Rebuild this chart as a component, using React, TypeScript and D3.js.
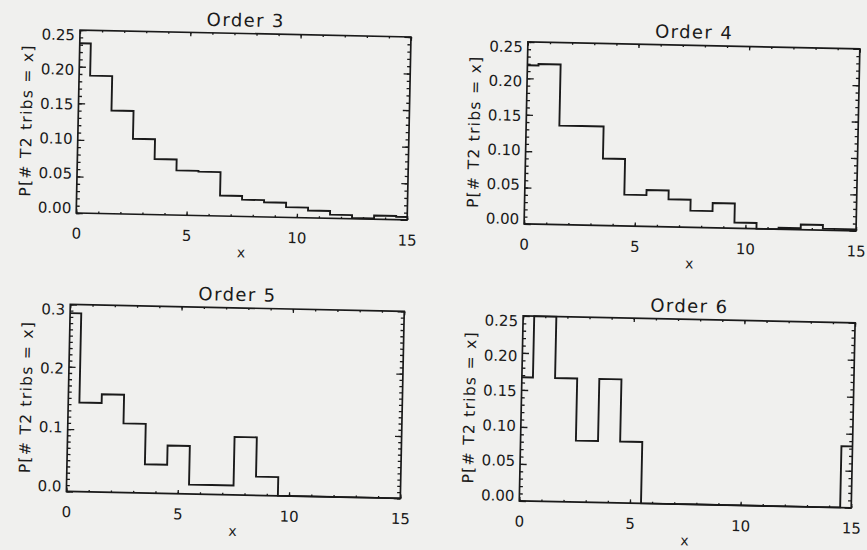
import { useRef, useEffect } from "react";
import * as d3 from "d3";

// x = number of T2 tributaries, one bin per integer
const tribCounts = [0, 1, 2, 3, 4, 5, 6, 7, 8, 9, 10, 11, 12, 13, 14, 15];

// P[# T2 tribs = x]
const order3 = [0.232, 0.188, 0.141, 0.103, 0.076, 0.061, 0.06, 0.028, 0.023, 0.02, 0.014, 0.01, 0.005, 0.001, 0.005, 0.004];
const order4 = [0.218, 0.22, 0.136, 0.136, 0.092, 0.043, 0.05, 0.038, 0.023, 0.034, 0.008, 0.0, 0.002, 0.007, 0.002, 0.002];
const order5 = [0.286, 0.143, 0.157, 0.111, 0.046, 0.077, 0.015, 0.015, 0.093, 0.03, 0, 0, 0, 0, 0, 0];
const order6 = [0.167, 0.25, 0.167, 0.083, 0.167, 0.083, 0, 0, 0, 0, 0, 0, 0, 0, 0, 0.083];

const panelTitles = ["Order 3", "Order 4", "Order 5", "Order 6"];
const yMaxes = [0.25, 0.25, 0.3, 0.25];
const xTickValues = [0, 5, 10, 15];
const yTicksFine = [0, 0.05, 0.1, 0.15, 0.2, 0.25];
const yTicksCoarse = [0, 0.1, 0.2, 0.3];
const yTitle = "P[# T2 tribs = x]";
const xTitle = "x";

const W = 867;
const H = 550;
const ink = "#1a1a1a";
const font = "'DejaVu Sans', Verdana, sans-serif";
const tilt = 1.2; // the scan is slightly rotated

// panel boxes in the un-rotated frame
const panels = [
  { l: 75, t: 37.5, w: 331, h: 183 },
  { l: 523, t: 40, w: 332, h: 182 },
  { l: 71, t: 312, w: 334, h: 187 },
  { l: 524, t: 314, w: 332, h: 185 },
];

const App = () => {
  const container = useRef<SVGSVGElement>(null);

  useEffect(() => {
    createChart();
  });

  const styleAxis = (sel: any) => {
    sel.select(".domain").remove();
    sel.attr("font-family", font).attr("font-size", 15);
    sel.selectAll("line").attr("stroke", ink).attr("stroke-width", 1.3);
    sel.selectAll("text").attr("fill", ink);
  };

  const createChart = () => {
    const series = [order3, order4, order5, order6];
    const svg = d3.select(container.current);
    svg.selectAll("*").remove();

    svg.append("rect").attr("width", W).attr("height", H).attr("fill", "#f0f0ee");

    const root = svg.append("g").attr("transform", `rotate(${tilt}, ${W / 2}, ${H / 2})`);

    series.forEach((vals, i) => {
      const p = panels[i];
      const yMax = yMaxes[i];
      const g = root.append("g").attr("transform", `translate(${p.l},${p.t})`);

      const x = d3.scaleLinear().domain([0, 15]).range([0, p.w]);
      const y = d3.scaleLinear().domain([0, yMax]).range([p.h, 0]);

      const majorY = yMax > 0.26 ? yTicksCoarse : yTicksFine;
      const fmt = yMax > 0.26 ? d3.format(".1f") : d3.format(".2f");
      const minorY = y.ticks(Math.round(yMax / 0.01));

      // minor ticks, all four sides
      g.append("g").attr("transform", `translate(0,${p.h})`)
        .call(d3.axisBottom(x).tickValues(tribCounts).tickSize(-1.9).tickFormat(() => ""))
        .call(styleAxis);
      g.append("g")
        .call(d3.axisTop(x).tickValues(tribCounts).tickSize(-1.9).tickFormat(() => ""))
        .call(styleAxis);
      g.append("g")
        .call(d3.axisLeft(y).tickValues(minorY).tickSize(-3.3).tickFormat(() => ""))
        .call(styleAxis);
      g.append("g").attr("transform", `translate(${p.w},0)`)
        .call(d3.axisRight(y).tickValues(minorY).tickSize(-3.3).tickFormat(() => ""))
        .call(styleAxis);

      // major ticks
      g.append("g").attr("transform", `translate(0,${p.h})`)
        .call(d3.axisBottom(x).tickValues(xTickValues).tickSize(-3.8).tickPadding(15).tickFormat(d3.format("d")))
        .call(styleAxis);
      g.append("g")
        .call(d3.axisTop(x).tickValues(xTickValues).tickSize(-3.8).tickFormat(() => ""))
        .call(styleAxis);
      const yaxisg = g.append("g")
        .call(d3.axisLeft(y).tickValues(majorY).tickSize(-6.6).tickPadding(5).tickFormat(fmt as any))
        .call(styleAxis);
      // IDL labels sit a little in from the ends of the axis
      yaxisg.selectAll("text").attr("y", (d: any) => (p.h / 2 - y(d)) * 0.055);
      g.append("g").attr("transform", `translate(${p.w},0)`)
        .call(d3.axisRight(y).tickValues(majorY).tickSize(-6.6).tickFormat(() => ""))
        .call(styleAxis);

      // histogram (psym=10 style)
      const clipId = `clip-${i}`;
      g.append("clipPath").attr("id", clipId)
        .append("rect").attr("x", -1).attr("y", -1).attr("width", p.w + 2).attr("height", p.h + 2);

      g.append("path")
        .datum(vals)
        .attr("clip-path", `url(#${clipId})`)
        .attr("fill", "none")
        .attr("stroke", ink)
        .attr("stroke-width", 1.9)
        .attr("stroke-linejoin", "miter")
        .attr(
          "d",
          d3.line<number>()
            .x((d, k) => x(tribCounts[k]))
            .y((d) => y(d))
            .curve(d3.curveStep)
        );

      // frame
      g.append("rect")
        .attr("width", p.w)
        .attr("height", p.h)
        .attr("fill", "none")
        .attr("stroke", ink)
        .attr("stroke-width", 1.7);

      // titles
      g.append("text")
        .attr("x", p.w / 2)
        .attr("y", -7)
        .attr("text-anchor", "middle")
        .attr("font-family", font)
        .attr("font-size", 18)
        .attr("letter-spacing", 1.4)
        .attr("fill", ink)
        .text(panelTitles[i]);

      g.append("text")
        .attr("x", p.w / 2)
        .attr("y", p.h + 41)
        .attr("text-anchor", "middle")
        .attr("font-family", font)
        .attr("font-size", 14)
        .attr("fill", ink)
        .text(xTitle);

      const labelW = d3.max(yaxisg.selectAll("text").nodes() as SVGTextElement[], (n) => n.getComputedTextLength()) || 30;
      g.append("text")
        .attr("transform", `translate(${-(5 + labelW + 8)},${p.h / 2}) rotate(-90)`)
        .attr("text-anchor", "middle")
        .attr("font-family", font)
        .attr("font-size", 15.5)
        .attr("letter-spacing", 1.3)
        .attr("fill", ink)
        .text(yTitle);
    });
  };

  return (
    <svg
      ref={container}
      width={W}
      height={H}
      style={{ position: "absolute", left: 0, top: 0, display: "block" }}
    />
  );
};

export default App;
